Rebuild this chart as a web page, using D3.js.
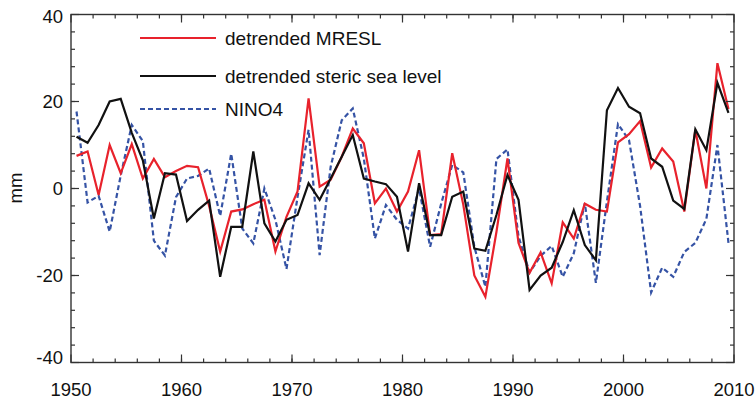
<!DOCTYPE html>
<html>
<head>
<meta charset="utf-8">
<script src="https://cdn.jsdelivr.net/npm/d3@7"></script>
<style>
html,body{margin:0;padding:0;background:#fff;}
svg{display:block;}
text{font-family:"Liberation Sans",Arial,Helvetica,sans-serif;fill:#111;}
</style>
</head>
<body>
<svg id="chart" width="756" height="399"></svg>
<script>
// ---- data (annual values, plotted at mid-year) ----
const years = [1950,1951,1952,1953,1954,1955,1956,1957,1958,1959,
  1960,1961,1962,1963,1964,1965,1966,1967,1968,1969,
  1970,1971,1972,1973,1974,1975,1976,1977,1978,1979,
  1980,1981,1982,1983,1984,1985,1986,1987,1988,1989,
  1990,1991,1992,1993,1994,1995,1996,1997,1998,1999,
  2000,2001,2002,2003,2004,2005,2006,2007,2008,2009];

const mresl = [7.5,8.5,-1.5,10.0,3.5,10.2,2.3,6.8,2.6,4.0,
  5.2,4.9,-4.0,-14.5,-5.3,-4.8,-3.6,-2.6,-14.5,-6.5,
  -0.7,20.7,0.4,2.0,7.3,13.8,10.4,-3.4,0.0,-5.3,
  -0.7,8.8,-10.7,-10.5,8.1,-3.7,-20.0,-24.9,-10.0,6.9,
  -12.5,-19.4,-14.7,-21.8,-7.8,-11.5,-3.5,-4.9,-5.3,10.6,
  12.5,15.5,4.8,9.2,6.2,-5.3,13.5,0.0,28.8,18.3];

const steric = [11.9,10.5,14.6,20.0,20.6,12.8,6.5,-6.9,3.5,3.2,
  -7.5,-4.9,-2.8,-20.3,-8.8,-8.8,8.5,-8.0,-12.2,-7.2,
  -6.1,1.2,-2.6,2.3,7.3,12.3,2.3,1.6,1.0,-1.9,
  -14.5,1.2,-10.7,-10.7,-1.9,-0.7,-13.8,-14.3,-6.1,3.1,
  -2.6,-23.3,-20.0,-18.2,-12.3,-5.0,-13.0,-16.5,18.0,23.1,
  18.8,17.3,6.9,5.0,-2.8,-4.7,13.6,8.8,24.3,17.4];

const nino4 = [17.7,-3.2,-1.7,-9.9,3.0,14.6,10.9,-12.0,-15.4,-2.0,
  2.3,2.9,4.6,-6.3,8.0,-9.2,-12.6,0.0,-7.2,-18.5,
  -2.0,13.5,-15.3,5.0,15.7,18.4,6.9,-11.5,-3.8,-7.2,
  -9.2,0.0,-13.4,-3.5,5.4,3.7,-13.4,-22.6,6.8,9.0,
  -11.0,-19.3,-15.5,-13.2,-20.3,-14.9,-3.4,-21.7,-3.0,14.8,
  11.1,-4.0,-23.9,-18.2,-20.3,-14.6,-12.5,-7.0,10.0,-12.5];

const xTickLabels = [1950,1960,1970,1980,1990,2000,2010];
const yTickLabels = [-40,-20,0,20,40];
const seriesNames = ["detrended MRESL","detrended steric sea level","NINO4"];

// ---- layout ----
const svg = d3.select("#chart");
const L = 71, R = 734, T = 14.5, B = 362.5;
const x = d3.scaleLinear().domain([1950,2010]).range([L,R]);
const y = d3.scaleLinear().domain([-40,40]).range([B,T]);

const series = [
  {name: seriesNames[0], values: mresl, color:"#e8222c", dash:null},
  {name: seriesNames[1], values: steric, color:"#111111", dash:null},
  {name: seriesNames[2], values: nino4, color:"#3553a5", dash:"5,3"}
];

const line = d3.line().x((d,i)=>x(years[i]+0.5)).y(d=>y(d));

// lines (NINO4 first, then red, then black on top)
const order = [2,0,1];
order.forEach(k=>{
  const s = series[k];
  svg.append("path").datum(s.values)
    .attr("d", line)
    .attr("fill","none")
    .attr("stroke", s.color)
    .attr("stroke-width", 2.2)
    .attr("stroke-linejoin","miter")
    .attr("stroke-dasharray", s.dash);
});

// frame
svg.append("rect").attr("x",L).attr("y",T).attr("width",R-L).attr("height",B-T)
  .attr("fill","none").attr("stroke","#333").attr("stroke-width",1.4);

// ticks (inward), on all four sides
const xMinor = d3.range(1952,2010,2);
const xMajor = xTickLabels;
const yMinor = d3.range(-36,40,4);
const yMajor = yTickLabels;
const tk = svg.append("g").attr("stroke","#333").attr("stroke-width",1.2);
xMinor.forEach(v=>{
  tk.append("line").attr("x1",x(v)).attr("x2",x(v)).attr("y1",B).attr("y2",B-4);
  tk.append("line").attr("x1",x(v)).attr("x2",x(v)).attr("y1",T).attr("y2",T+4);
});
xMajor.forEach(v=>{
  tk.append("line").attr("x1",x(v)).attr("x2",x(v)).attr("y1",B).attr("y2",B-8);
  tk.append("line").attr("x1",x(v)).attr("x2",x(v)).attr("y1",T).attr("y2",T+8);
});
yMinor.forEach(v=>{
  tk.append("line").attr("x1",L).attr("x2",L+4).attr("y1",y(v)).attr("y2",y(v));
  tk.append("line").attr("x1",R).attr("x2",R-4).attr("y1",y(v)).attr("y2",y(v));
});
yMajor.forEach(v=>{
  tk.append("line").attr("x1",L).attr("x2",L+8).attr("y1",y(v)).attr("y2",y(v));
  tk.append("line").attr("x1",R).attr("x2",R-8).attr("y1",y(v)).attr("y2",y(v));
});

// tick labels
svg.append("g").selectAll("text").data(xTickLabels).join("text")
  .attr("x", d=>x(d)).attr("y", 396)
  .attr("text-anchor","middle").attr("font-size",18.5)
  .text(d=>d);
svg.append("g").selectAll("text").data(yTickLabels).join("text")
  .attr("x", 63).attr("y", d=>y(d) + (d===40?2:(d===-40?-5:0)))
  .attr("dy","0.35em")
  .attr("text-anchor","end").attr("font-size",18.5)
  .text(d=>d);

// y axis title
svg.append("text").attr("transform","translate(22,188) rotate(-90)")
  .attr("text-anchor","middle").attr("font-size",18.5).text("mm");

// legend
const legY = [38, 76, 109];
series.forEach((s,i)=>{
  svg.append("line").attr("x1",140).attr("x2",216).attr("y1",legY[i]).attr("y2",legY[i])
    .attr("stroke",s.color).attr("stroke-width",2.2).attr("stroke-dasharray",s.dash);
  svg.append("text").attr("x",225).attr("y",legY[i]).attr("dy","0.36em")
    .attr("font-size",19).text(s.name);
});
</script>
</body>
</html>
